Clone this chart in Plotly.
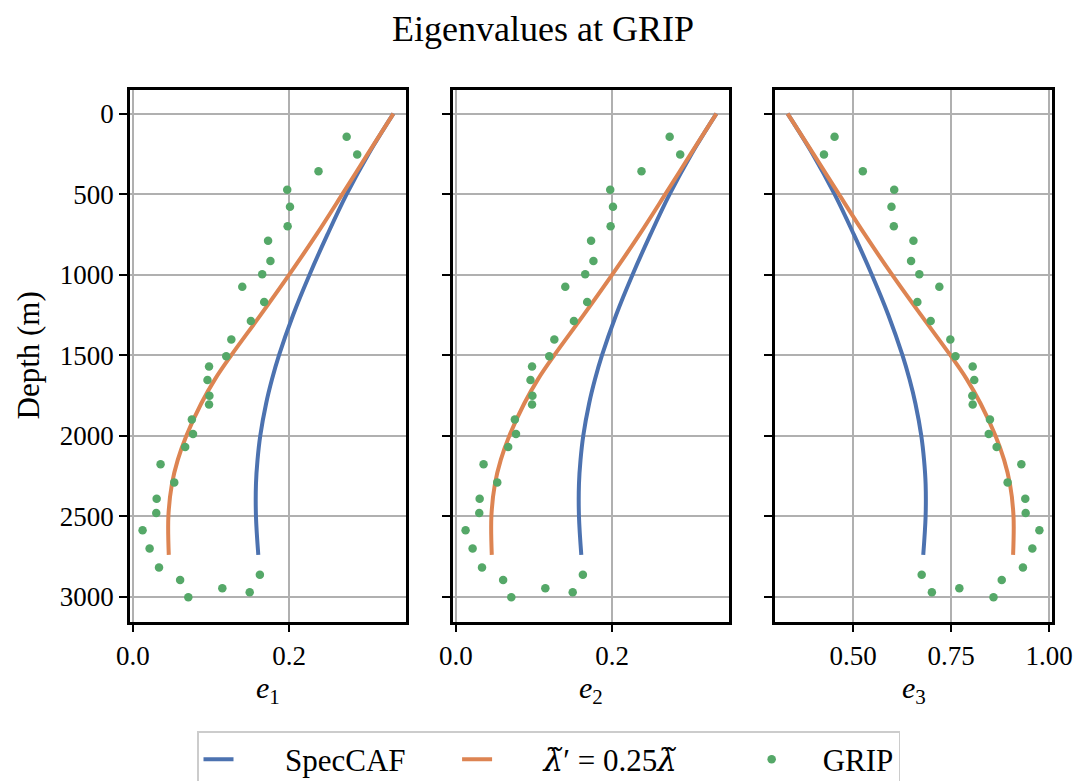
import plotly.graph_objects as go
from plotly.subplots import make_subplots

# ---------------- data ----------------
grip_depth = [143, 253, 358, 472, 578, 700, 789, 915, 998, 1075, 1170, 1288, 1402, 1507,
              1571, 1654, 1752, 1806, 1899, 1989, 2070, 2178, 2290, 2391, 2480, 2588,
              2700, 2818, 2863, 2896, 2948, 2973, 3004]
grip_e1 = [0.2735, 0.287, 0.2375, 0.1975, 0.201, 0.198, 0.173, 0.176, 0.1655, 0.140, 0.168,
           0.151, 0.126, 0.1195, 0.0975, 0.0955, 0.098, 0.0975, 0.0755, 0.077, 0.067, 0.0355,
           0.053, 0.0305, 0.030, 0.0125, 0.0215, 0.0335, 0.1625, 0.0605, 0.1145, 0.1495, 0.071]
grip_e2 = [0.2735, 0.287, 0.2375, 0.1975, 0.201, 0.198, 0.173, 0.176, 0.1655, 0.140, 0.168,
           0.151, 0.126, 0.1195, 0.0975, 0.0955, 0.098, 0.0975, 0.0755, 0.077, 0.067, 0.0355,
           0.053, 0.0305, 0.030, 0.0125, 0.0215, 0.0335, 0.1625, 0.0605, 0.1145, 0.1495, 0.071]
grip_e3 = [0.453, 0.426, 0.525, 0.605, 0.598, 0.604, 0.654, 0.648, 0.669, 0.720, 0.664, 0.698,
           0.748, 0.761, 0.805, 0.809, 0.804, 0.805, 0.849, 0.846, 0.866, 0.929, 0.894, 0.939,
           0.940, 0.975, 0.957, 0.933, 0.675, 0.879, 0.771, 0.701, 0.858]

model_depth = [0, 250, 500, 750, 1000, 1250, 1500, 1650, 1800, 2000, 2150, 2300, 2500, 2740]
speccaf_e1 = [0.3333, 0.3015, 0.2735, 0.249, 0.226, 0.205, 0.187, 0.178, 0.1705, 0.163,
              0.1595, 0.1575, 0.1575, 0.1605]
speccaf_e2 = [0.3333, 0.3015, 0.2735, 0.249, 0.226, 0.205, 0.187, 0.178, 0.1705, 0.163,
              0.1595, 0.1575, 0.1575, 0.1605]
speccaf_e3 = [0.3333, 0.397, 0.453, 0.502, 0.548, 0.590, 0.626, 0.644, 0.659, 0.674,
              0.681, 0.685, 0.685, 0.679]
lam_e1 = [0.3333, 0.3005, 0.268, 0.235, 0.200, 0.1635, 0.126, 0.105, 0.0875, 0.0685,
          0.0575, 0.050, 0.0455, 0.046]
lam_e2 = [0.3333, 0.3005, 0.268, 0.235, 0.200, 0.1635, 0.126, 0.105, 0.0875, 0.0685,
          0.0575, 0.050, 0.0455, 0.046]
lam_e3 = [0.3333, 0.399, 0.464, 0.530, 0.5995, 0.673, 0.748, 0.790, 0.825, 0.863,
          0.885, 0.900, 0.909, 0.908]

depth_ticks = [0, 500, 1000, 1500, 2000, 2500, 3000]
e12_ticks = [0.0, 0.2]
e12_ticktext = ["0.0", "0.2"]
e3_ticks = [0.5, 0.75, 1.0]
e3_ticktext = ["0.50", "0.75", "1.00"]

LAM = "<span style=\"font-family:'DejaVu Serif'\"><i>λ̃</i></span>"
series_names = ["SpecCAF", LAM + "′ = 0.25" + LAM, "GRIP"]
panel_labels = ["<i>e</i><sub>1</sub>", "<i>e</i><sub>2</sub>", "<i>e</i><sub>3</sub>"]
title_text = "Eigenvalues at GRIP"
ylabel_text = "Depth (m)"

# ---------------- style ----------------
BLUE = "#4c72b0"
ORANGE = "#dd8452"
GREEN = "#55a868"
FONT = "Liberation Serif"
W, H = 1090, 781
OFF = 8  # page body margin offset
NB = "\u00a0"
leads = [NB * 6, NB * 6, NB * 4]
trails = [NB * 6, NB * 9, ""]


def px(xp):
    return (xp - OFF) / W


def py(yp):
    return 1 - (yp - OFF) / H


fig = make_subplots(rows=1, cols=3, shared_yaxes=True)

panels = [
    (speccaf_e1, lam_e1, grip_e1),
    (speccaf_e2, lam_e2, grip_e2),
    (speccaf_e3, lam_e3, grip_e3),
]
for i, (spec, lam, grip) in enumerate(panels):
    show = i == 0
    fig.add_trace(go.Scatter(x=spec, y=model_depth, mode="lines",
                             line=dict(color=BLUE, width=4, shape="spline", smoothing=1.0),
                             name=leads[0] + series_names[0] + trails[0], showlegend=show), row=1, col=i + 1)
    fig.add_trace(go.Scatter(x=lam, y=model_depth, mode="lines",
                             line=dict(color=ORANGE, width=4, shape="spline", smoothing=1.0),
                             name=leads[1] + series_names[1] + trails[1], showlegend=show), row=1, col=i + 1)
    fig.add_trace(go.Scatter(x=grip, y=grip_depth, mode="markers",
                             marker=dict(color=GREEN, size=8.5, line=dict(width=0)),
                             name=leads[2] + series_names[2] + trails[2], showlegend=show), row=1, col=i + 1)

# pixel-based domains (reference pixel coordinates)
xdoms = [(130, 406), (453, 729), (775, 1052)]
ytop, ybot = 89.5, 621.5
xranges = [[-0.0036, 0.3494], [-0.0036, 0.3494], [0.3012, 1.0071]]
xticks = [(e12_ticks, e12_ticktext), (e12_ticks, e12_ticktext), (e3_ticks, e3_ticktext)]

axis_common = dict(showline=True, linecolor="black", linewidth=2.5, mirror=True,
                   showgrid=True, gridcolor="#b0b0b0", gridwidth=2.2, zeroline=False,
                   ticks="outside", ticklen=8, tickwidth=2.2, tickcolor="black",
                   automargin=False,
                   tickfont=dict(family=FONT, size=27, color="black"))

for i in range(3):
    xa = "xaxis" if i == 0 else f"xaxis{i+1}"
    ya = "yaxis" if i == 0 else f"yaxis{i+1}"
    fig.layout[xa].update(domain=[px(xdoms[i][0]), px(xdoms[i][1])], range=xranges[i],
                          tickvals=xticks[i][0], ticktext=xticks[i][1], **axis_common)
    fig.layout[ya].update(domain=[py(ybot), py(ytop)], range=[3154, -150],
                          tickvals=depth_ticks, showticklabels=(i == 0), **axis_common)

ann = []
centers = [(a + b) / 2 for a, b in xdoms]
for i in range(3):
    ann.append(dict(text=panel_labels[i], x=px(centers[i]), y=py(690), xref="paper", yref="paper",
                    showarrow=False, xanchor="center", yanchor="middle",
                    font=dict(family=FONT, size=30, color="black")))
ann.append(dict(text=ylabel_text, x=px(28), y=py(355.5), xref="paper", yref="paper", textangle=-90,
                showarrow=False, xanchor="center", yanchor="middle",
                font=dict(family=FONT, size=31, color="black")))
ann.append(dict(text=title_text, x=px(543), y=py(29), xref="paper", yref="paper",
                showarrow=False, xanchor="center", yanchor="middle",
                font=dict(family=FONT, size=36, color="black")))

fig.update_layout(
    width=W, height=H,
    margin=dict(l=0, r=0, t=0, b=0, autoexpand=False),
    paper_bgcolor="white", plot_bgcolor="white",
    annotations=ann,
    showlegend=True,
    legend=dict(orientation="h", x=px(197), xanchor="left", y=py(731), yanchor="top",
                bordercolor="#cccccc", borderwidth=1.5, bgcolor="white",
                font=dict(family=FONT, size=31, color="black"),
                traceorder="normal"),
)

fig.write_html("out.html")
